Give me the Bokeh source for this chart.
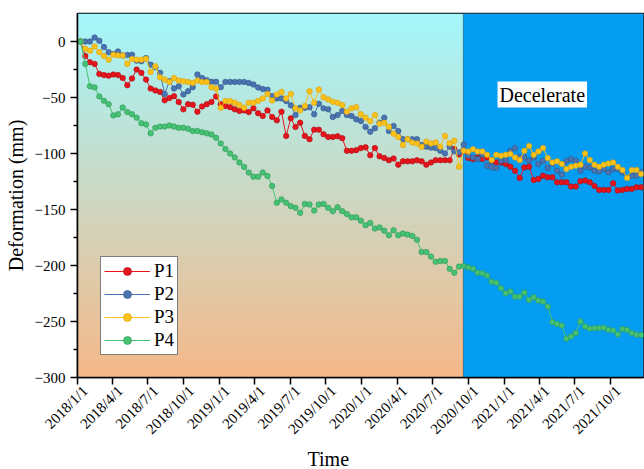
import math
from datetime import datetime, timedelta
import numpy as np
import pandas as pd
from bokeh.plotting import figure
from bokeh.models import (Range1d, FixedTicker, Label, BoxAnnotation, Legend,
                          LegendItem, ColumnDataSource, Title, DatetimeAxis)
from bokeh.embed import file_html
from bokeh.resources import INLINE

# ---------------- data ----------------
first_date = "2018-01-09"      # first acquisition, 12-day revisit
revisit = "12D"

P1 = [0, -13, -18.5, -20, -29, -30, -30.5, -29.5, -30, -32.5,
      -39, -33, -25, -28, -34, -42, -43.7, -45, -52.5, -50.5,
      -48.8, -54, -60.6, -56, -56.5, -62.7, -58, -56, -54, -49,
      -56, -57.7, -58.6, -60.6, -62, -61.5, -63, -59.7, -64, -66.5,
      -61.5, -67.4, -70.4, -62.7, -84.3, -68.6, -76.3, -72.5, -84.3, -87.2,
      -78.7, -78.7, -82.8, -85.2, -85.2, -84.6, -86.3, -97.6, -97.6, -97,
      -95.2, -94.5, -101.5, -95.2, -102.5, -104, -106, -104.5, -110, -107,
      -107, -107, -106, -107, -110, -108, -106, -106, -106, -106,
      -96, -101, -97.6, -104, -105, -103.5, -105, -103.5, -106.5, -108,
      -108, -109.4, -111.8, -115.4, -121.8, -112.4, -111.8, -123.7, -122.7, -119.8,
      -121.3, -121.3, -125.7, -125.7, -125.7, -129.5, -129.5, -124.8, -124.2, -125.7,
      -129, -132.5, -132.5, -132.5, -126.6, -133, -132.5, -131.6, -131.6, -130.2, -130.2]

P2 = [0, 0, 0, 3.5, 0.6, -5, -9.5, -11.2, -8.9, -12.4,
      -12, -11.8, -17.1, -17.7, -14.8, -20.7, -23, -28, -46.8, -35.5,
      -42, -40, -47.3, -44.4, -40.8, -29.5, -32.6, -34.5, -36, -36,
      -40.8, -36.1, -36.1, -36.1, -36.1, -36.1, -37, -38.4, -41, -42.5,
      -43, -48.8, -50.8, -50.8, -53.2, -57, -65.7, -59.2, -59.2, -58.6,
      -65, -55.6, -59.7, -60.6, -67.4, -65.7, -62.1, -65.7, -66.5, -69.5,
      -71, -76.3, -80.5, -77.5, -72.5, -68, -79.9, -75.4, -79.9, -87.2,
      -87.2, -87.2, -87.2, -92.3, -94, -94.7, -95.2, -97.6, -100, -94,
      -98, -99, -92, -102, -103.5, -105, -101, -111, -112.4, -113,
      -106.5, -106, -97.6, -95.2, -103.5, -103.5, -106.5, -103.5, -109.4, -106.5,
      -113, -108.9, -115.4, -118.9, -106.5, -105, -106.5, -115.4, -111.8, -112.4,
      -115.4, -116, -113.9, -116.8, -113.9, -113.9, -116.8, -121.3, -119.8, -119.8, -116.8]

P3 = [0, -6.5, -8.3, -4.4, -9.5, -13, -16.2, -11.8, -12.4, -12.4,
      -20, -15.7, -16.2, -16.2, -15.4, -27.2, -22.2, -32, -34, -36.1,
      -32.6, -34.9, -35.5, -36.1, -37, -34.9, -36.1, -36.1, -40.8, -42,
      -59.2, -53.2, -53.2, -54.7, -56.8, -59.2, -54.7, -54.7, -53, -50.8,
      -46.8, -52.6, -47.3, -45, -50.8, -46.8, -59.7, -61.5, -57.7, -44.4,
      -54.7, -42.9, -49.7, -51.7, -53.8, -54.7, -56.8, -62.7, -59.7, -58.6,
      -65, -68, -71, -65.7, -73.4, -72.5, -76.3, -82.3, -85.2, -92.3,
      -87.2, -90.2, -91.1, -94, -89.4, -91.1, -90.2, -94, -84.3, -91.1,
      -88.7, -111.8, -97.6, -98.2, -96.1, -98.2, -98.2, -101.2, -105.9, -101.2,
      -102, -101.2, -100.5, -103.5, -105.9, -97.6, -93.2, -101.2, -98.2, -95.2,
      -104.1, -108, -107, -109.4, -113.9, -111.8, -110.9, -110, -100, -105.9,
      -110, -111.8, -110, -108.9, -108, -111.8, -114.7, -121.8, -114.7, -114.7, -118.3]

P4 = [0, -20, -40, -41, -49, -53, -56, -66, -65, -59,
      -63, -65, -68, -73, -74, -82, -77, -76, -76, -75,
      -76, -77, -77, -78, -80, -80, -81, -82, -83, -86,
      -91, -96, -100, -103.5, -108, -112, -117, -120.7, -120.7, -117,
      -120, -129, -144, -141, -144, -147, -148.5, -153, -145, -145.5,
      -151, -145.5, -145, -148.5, -151.5, -148, -151.5, -154, -157, -157,
      -160, -164, -162, -167, -166, -169, -173, -168.6, -173, -171.5,
      -172.4, -173.6, -177, -188, -188, -192, -196.7, -196, -196, -203,
      -206.5, -201, -200.5, -201.7, -203, -206.5, -207, -209, -214.5, -215.4,
      -220.3, -224.8, -223.3, -227.8, -227.8, -224.2, -230.7, -228.3, -231.3, -232.2,
      -236.7, -250.5, -252.3, -253.5, -265.3, -263.3, -260.3, -250, -254.4, -256.2,
      -256, -255.8, -255.5, -257.3, -258, -261.5, -256.7, -257.5, -260.3, -261.8, -262]

series_names = ["P1", "P2", "P3", "P4"]
series_colors = ["#e8141c", "#4a74b2", "#fbc21a", "#46c274"]
series_edges = ["#a80c12", "#2f5488", "#d89e08", "#2e9655"]

tick_labels = ["2018/1/1", "2018/4/1", "2018/7/1", "2018/10/1",
               "2019/1/1", "2019/4/1", "2019/7/1", "2019/10/1",
               "2020/1/1", "2020/4/1", "2020/7/1", "2020/10/1",
               "2021/1/1", "2021/4/1", "2021/7/1", "2021/10/1"]
y_ticks = [0, -50, -100, -150, -200, -250, -300]
y_minor = [-25, -75, -125, -175, -225, -275]

decel_start = "2020-09-18"
region_label = "Decelerate"
x_title = "Time"
y_title = "Deformation (mm)"

# ---------------- helpers ----------------
EPOCH = datetime(1970, 1, 1)


def ms(d):
    return int((d - EPOCH).total_seconds() * 1000)


dates = pd.date_range(first_date, periods=len(P4), freq=revisit)
src = ColumnDataSource(dict(date=dates, P1=P1, P2=P2, P3=P3, P4=P4))

x_start = datetime(2018, 1, 1)
x_end = x_start + timedelta(days=1454)
y_lo, y_hi = -300, 25
label_shift = timedelta(days=20)   # tick labels sit a little right of ticks

p = figure(width=644, height=469, x_axis_type="datetime",
           x_range=Range1d(x_start, x_end), y_range=Range1d(y_lo, y_hi),
           output_backend="svg", toolbar_location=None,
           min_border_left=77, min_border_right=1, min_border_top=13,
           min_border_bottom=91)

p.grid.visible = False
p.outline_line_color = "black"
p.outline_line_width = 1.5
p.background_fill_color = "white"
p.border_fill_color = "white"

# gradient background (cyan top -> orange bottom)
N = 256
t = np.linspace(0, 1, N)[:, None]  # 0 = bottom
bottom = np.array([246, 185, 138])
top = np.array([164, 247, 252])
cols = (bottom + (top - bottom) * t).astype(np.uint8)
img = np.empty((N, 1), dtype=np.uint32)
view = img.view(dtype=np.uint8).reshape((N, 1, 4))
view[:, 0, 0] = cols[:, 0]
view[:, 0, 1] = cols[:, 1]
view[:, 0, 2] = cols[:, 2]
view[:, 0, 3] = 255
p.image_rgba(image=[img], x=ms(x_start), y=y_lo, dw=ms(x_end) - ms(x_start),
             dh=y_hi - y_lo, level="image")

box = BoxAnnotation(left=ms(datetime.fromisoformat(decel_start)),
                    fill_color="#059df2", fill_alpha=1.0,
                    line_color="black", line_width=1, level="underlay")
p.add_layout(box)

items = []
for name, c, e in zip(series_names, series_colors, series_edges):
    lr = p.line(x="date", y=name, source=src, line_color=c, line_width=1)
    sr = p.scatter(x="date", y=name, source=src, size=5.5, fill_color=c,
                   line_color=e, line_width=0.6)
    items.append(LegendItem(label=name, renderers=[lr, sr]))

legend = Legend(items=items, location=(23, 22), margin=0,
                border_line_color="black", border_line_width=1,
                background_fill_color="white", background_fill_alpha=1,
                label_text_font="Liberation Serif", label_text_font_size="19px",
                label_text_color="black",
                glyph_width=46, glyph_height=20, label_height=20,
                spacing=1, padding=3, label_standoff=4)
p.add_layout(legend)

# axes
tick_dates = [datetime.strptime(s, "%Y/%m/%d") for s in tick_labels]
tick_ms = [ms(d) for d in tick_dates]

# primary x axis: line + ticks only
xa = p.xaxis[0]
xa.ticker = FixedTicker(ticks=tick_ms, minor_ticks=[])
xa.major_label_overrides = {k: "" for k in tick_ms}
xa.major_label_standoff = 0
xa.major_label_text_font_size = "1px"

# secondary x axis: labels only, slightly shifted to the right
p.extra_x_ranges = {"lab": Range1d(x_start - label_shift, x_end - label_shift)}
lab_axis = DatetimeAxis(x_range_name="lab",
                        ticker=FixedTicker(ticks=tick_ms, minor_ticks=[]),
                        major_label_overrides={k: s for k, s in zip(tick_ms, tick_labels)},
                        major_label_orientation=math.pi / 4,
                        axis_line_color=None, major_tick_line_color=None,
                        minor_tick_line_color=None,
                        major_tick_out=0, major_tick_in=0,
                        minor_tick_out=0, minor_tick_in=0,
                        major_label_standoff=4,
                        major_label_text_font="Liberation Serif",
                        major_label_text_font_size="15px",
                        major_label_text_color="black")
p.add_layout(lab_axis, "below")

p.yaxis.ticker = FixedTicker(ticks=y_ticks, minor_ticks=y_minor)

for ax in (p.xaxis[0], p.yaxis[0]):
    ax.axis_line_width = 1.5
    ax.axis_line_color = "black"
    ax.major_tick_line_width = 1.5
    ax.major_tick_line_color = "black"
    ax.minor_tick_line_width = 1.5
    ax.minor_tick_line_color = "black"
    ax.major_tick_in = 0
    ax.major_tick_out = 7
    ax.minor_tick_in = 0
    ax.minor_tick_out = 4

p.yaxis.major_label_text_font = "Liberation Serif"
p.yaxis.major_label_text_color = "black"
p.yaxis.major_label_standoff = 5
p.yaxis.major_label_text_font_size = "15px"
p.yaxis.axis_label = y_title
p.yaxis.axis_label_text_font = "Liberation Serif"
p.yaxis.axis_label_text_font_size = "20px"
p.yaxis.axis_label_text_font_style = "normal"
p.yaxis.axis_label_text_color = "black"
p.yaxis.axis_label_standoff = 5

p.add_layout(Label(x=ms(datetime(2021, 4, 9)), y=-47.4, text=region_label,
                   text_align="center", text_baseline="middle",
                   text_font="Liberation Serif", text_font_size="20px",
                   text_color="black", background_fill_color="white",
                   background_fill_alpha=1, padding=2))

p.add_layout(Title(text=x_title, align="left", offset=230,
                   text_font="Liberation Serif", text_font_size="20px",
                   text_font_style="normal", text_color="black",
                   standoff=0), "below")

open("out.html", "w").write(file_html(p, INLINE))
